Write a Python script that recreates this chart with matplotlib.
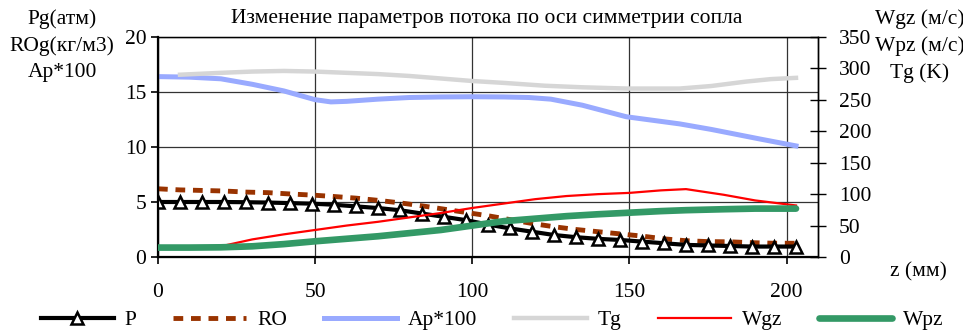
import numpy as np
import matplotlib.pyplot as plt
from matplotlib.lines import Line2D

plt.rcParams['font.family'] = ['Liberation Serif', 'DejaVu Serif']

# P (atm), markers every 7 mm
z_p = [0, 7, 14, 21, 28, 35, 42, 49, 56, 63, 70, 77, 84, 91, 98, 105, 112, 119,
       126, 133, 140, 147, 154, 161, 168, 175, 182, 189, 196, 203]
p = [5.0, 5.0, 5.0, 5.0, 4.98, 4.95, 4.9, 4.85, 4.75, 4.6, 4.45, 4.25, 3.95, 3.65,
     3.35, 2.95, 2.6, 2.3, 2.0, 1.8, 1.65, 1.55, 1.4, 1.25, 1.1, 1.05, 1.0, 0.95,
     0.95, 0.95]

# RO (kg/m3)
ro = [6.2, 6.1, 6.05, 6.0, 5.9, 5.85, 5.73, 5.63, 5.5, 5.35, 5.15, 4.92, 4.65, 4.35,
      4.05, 3.75, 3.4, 3.05, 2.75, 2.5, 2.3, 2.1, 1.9, 1.65, 1.48, 1.4, 1.38, 1.3,
      1.25, 1.25]

# Ap*100
z_ap = [0, 10, 20, 30, 40, 50, 55, 60, 70, 80, 90, 100, 110, 118, 125, 135, 149,
        166, 176, 192, 203]
ap = [16.4, 16.35, 16.2, 15.7, 15.1, 14.3, 14.1, 14.15, 14.35, 14.5, 14.55, 14.57,
      14.55, 14.5, 14.35, 13.8, 12.75, 12.1, 11.6, 10.7, 10.1]

# Tg (K)
z_tg = [7, 20, 30, 40, 50, 60, 70, 80, 90, 100, 110, 123, 135, 149, 166, 176, 187,
        195, 203]
tg = [290, 293, 295, 296, 295, 293, 291, 288, 284, 280, 277, 272.5, 270, 268, 268,
      272, 279, 283, 285]

# Wgz, Wpz (m/s)
z_w = [0, 10, 20, 30, 40, 50, 60, 70, 80, 90, 100, 110, 120, 130, 140, 150, 160,
       168, 180, 190, 203]
wgz = [15, 15, 17, 28, 36, 43, 50, 56, 63, 70, 78, 85, 92, 97, 100, 102, 106, 108,
       99, 90, 82]
wpz = [15, 15, 15.4, 17, 20.5, 25, 29, 33, 38, 43, 50, 57, 61, 65, 68, 70.5, 73,
       74.5, 76, 77, 77]

fig = plt.figure(figsize=(9.63, 3.32), dpi=100)
ax = fig.add_axes([158 / 963, 1 - 257 / 332, 660 / 963, 220 / 332])
ax2 = ax.twinx()

fs = 15.5

ax.plot(z_p, p, color='black', lw=3, marker='^', ms=9, mfc='white', mec='black',
        mew=1.8, zorder=3)
ax.plot(z_p, ro, color='#993300', lw=3.5, dashes=(2, 1.6), zorder=2)
ax.plot(z_ap, ap, color='#99AAFF', lw=3.6, zorder=2)
ax2.plot(z_tg, tg, color='#D6D6D6', lw=3.2, zorder=2)
ax2.plot(z_w, wgz, color='#FF0000', lw=1.6, zorder=3)
ax2.plot(z_w, wpz, color='#339966', lw=4.8, solid_capstyle='round', zorder=4)

ax.set_xlim(0, 210)
ax.set_ylim(0, 20)
ax2.set_ylim(0, 350)
ax.set_xticks([0, 50, 100, 150, 200])
ax.set_yticks([0, 5, 10, 15, 20])
ax2.set_yticks(np.arange(0, 351, 50))

ax.grid(True, color='#333333', lw=0.9)
ax.set_axisbelow(True)
for s in ax.spines.values():
    s.set_color('black')
    s.set_linewidth(1.0)
ax.spines['left'].set_linewidth(1.6)
ax.spines['bottom'].set_linewidth(1.6)
ax2.spines['right'].set_linewidth(1.0)

ax.tick_params(axis='both', labelsize=fs, direction='out', length=5, width=1.2)
ax.tick_params(axis='x', pad=14)
ax2.tick_params(axis='y', labelsize=fs, direction='inout', length=12, width=1.0,
                pad=9)

fig.text(0.505, 0.945, 'Изменение параметров потока по оси симметрии сопла',
         ha='center', va='center', fontsize=fs)
fig.text(62 / 963, 1 - 46 / 332, 'Pg(атм)\nROg(кг/м3)\nAp*100', ha='center',
         va='center', fontsize=fs, linespacing=1.5)
fig.text(920 / 963, 1 - 46 / 332, 'Wgz (м/с)\nWpz (м/с)\nTg (K)', ha='center',
         va='center', fontsize=fs, linespacing=1.5)
fig.text(918 / 963, 1 - 272 / 332, 'z (мм)', ha='center', va='center', fontsize=fs)

handles = [
    Line2D([], [], color='black', lw=3, marker='^', ms=9, mfc='white', mec='black',
           mew=1.8),
    Line2D([], [], color='#993300', lw=3.5, dashes=(2, 1.6)),
    Line2D([], [], color='#99AAFF', lw=3.6),
    Line2D([], [], color='#D6D6D6', lw=3.2),
    Line2D([], [], color='#FF0000', lw=1.6),
    Line2D([], [], color='#339966', lw=4.8, solid_capstyle='round'),
]
labels = ['P', 'RO', 'Ap*100', 'Tg', 'Wgz', 'Wpz']
fig.legend(handles, labels, loc='center', bbox_to_anchor=(492 / 963, 1 - 320 / 332),
           ncol=6, frameon=False, fontsize=fs, handlelength=3.4,
           columnspacing=1.7, handletextpad=0.5, borderaxespad=0, borderpad=0)

fig.savefig('out.png', dpi=100)
